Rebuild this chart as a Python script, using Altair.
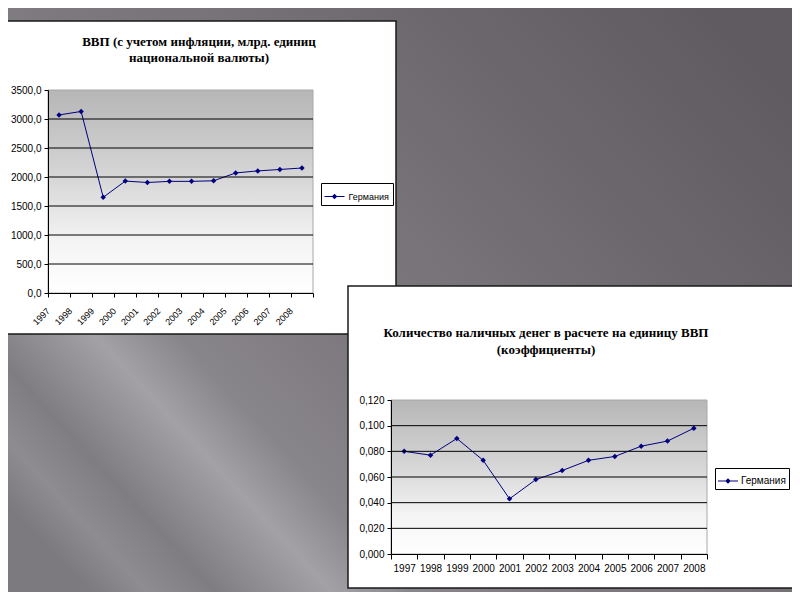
import altair as alt
import pandas as pd

# ---------------- data ----------------
years = ["1997", "1998", "1999", "2000", "2001", "2002",
         "2003", "2004", "2005", "2006", "2007", "2008"]
gdp_values = [3070, 3130, 1650, 1930, 1905, 1925, 1925, 1935, 2070, 2105, 2130, 2155]
cash_values = [0.080, 0.077, 0.090, 0.073, 0.043, 0.058, 0.065, 0.073, 0.076, 0.084, 0.088, 0.098]
series_name = "Германия"
gdp_ticks = [0, 500, 1000, 1500, 2000, 2500, 3000, 3500]
cash_ticks = [0.0, 0.02, 0.04, 0.06, 0.08, 0.10, 0.12]
title1 = "ВВП (с учетом инфляции, млрд. единиц\nнациональной валюты)"
title2 = "Количество наличных денег в расчете на единицу ВВП\n(коэффициенты)"

# ---------------- layout / style ----------------
W, H = 784, 584
NAVY = "#000080"
SANS = "Liberation Sans"
SERIF = "Liberation Serif"
LEG_PATH = "M-1,-0.05L1,-0.05L1,0.05L-1,0.05Z M0,-0.28L0.28,0L0,0.28L-0.28,0Z"

one = pd.DataFrame({"k": [0]})


def deco_rect(x, x2, y, y2, **kw):
    return alt.Chart(one).mark_rect(**kw).encode(
        x=alt.value(x), x2=alt.value(x2), y=alt.value(y), y2=alt.value(y2))


def deco_text(txt, x, y, **kw):
    return alt.Chart(one).mark_text(text=txt, **kw).encode(x=alt.value(x), y=alt.value(y))


slide_bg = deco_rect(0, W, 0, H, fill=alt.LinearGradient(
    gradient="linear", x1=0, y1=0.85, x2=1, y2=0.16,
    stops=[alt.GradientStop(offset=0.0, color="#7c797f"),
           alt.GradientStop(offset=0.05, color="#8e8b91"),
           alt.GradientStop(offset=0.11, color="#7f7c82"),
           alt.GradientStop(offset=0.21, color="#a3a0a6"),
           alt.GradientStop(offset=0.28, color="#88858b"),
           alt.GradientStop(offset=0.42, color="#7d797f"),
           alt.GradientStop(offset=0.55, color="#78747a"),
           alt.GradientStop(offset=0.75, color="#6c686e"),
           alt.GradientStop(offset=1.0, color="#605b61")]))

plot_grad = alt.LinearGradient(
    gradient="linear", x1=0, y1=0, x2=0, y2=1,
    stops=[alt.GradientStop(offset=0.0, color="#b6b6b6"),
           alt.GradientStop(offset=0.45, color="#d8d8d8"),
           alt.GradientStop(offset=0.75, color="#f4f4f4"),
           alt.GradientStop(offset=1.0, color="#ffffff")])


def panel(values, fmt, ticks, plot, xaxis, yaxis_extra, legend_pos, legend_font, legend_pad, legend_off):
    x0, x1, y0, y1 = plot
    df = pd.DataFrame({"year": years, "value": values, "series": series_name})
    grid_df = pd.DataFrame({"value": ticks[1:-1]})
    xscale = alt.Scale(domain=years, range=[x0, x1], paddingInner=0, paddingOuter=0)
    yscale = alt.Scale(domain=[ticks[0], ticks[-1]], range=[y1, y0], nice=False)
    x = alt.X("year:N", scale=xscale, axis=alt.Axis(
        orient="bottom", offset=-(H - y1), title=None, grid=False,
        tickBand="extent", domainColor="black", tickColor="black",
        labelColor="black", labelFont=SANS, labelOverlap=False, zindex=1, **xaxis))
    y = alt.Y("value:Q", scale=yscale, axis=alt.Axis(
        orient="left", offset=-x0, title=None, grid=False,
        domainColor="black", tickColor="black", tickSize=4, labelPadding=3,
        labelColor="black", labelFont=SANS, labelFontSize=10, zindex=1, **yaxis_extra))
    bg = deco_rect(x0, x1, y0, y1, fill=plot_grad, stroke="#a8a8a8", strokeWidth=1)
    grid = alt.Chart(grid_df).mark_rule(color="black", strokeWidth=1).encode(
        y=alt.Y("value:Q", scale=yscale), x=alt.value(x0), x2=alt.value(x1))
    line = alt.Chart(df).mark_line(color=NAVY, strokeWidth=1).encode(x=x, y=y)
    pts = alt.Chart(df).mark_point(shape="diamond", filled=True, size=30, opacity=1).encode(
        x=x, y=y,
        color=alt.Color("series:N", scale=alt.Scale(domain=[series_name], range=[NAVY]),
                        legend=alt.Legend(
                            title=None, orient="none", legendX=legend_pos[0], legendY=legend_pos[1],
                            strokeColor="black", fillColor="white", padding=legend_pad,
                            symbolType=LEG_PATH, symbolSize=400, symbolStrokeWidth=0,
                            symbolOpacity=1, labelFont=SANS, labelFontSize=legend_font,
                            labelColor="black", labelOffset=legend_off, zindex=1)))
    return alt.layer(bg, line, pts, grid)


box1 = deco_rect(-4, 388, 13, 326, fill="white", stroke="#1a1a1a", strokeWidth=1.5)
ttl1 = deco_text(title1, 191, 34, font=SERIF, fontSize=13, fontWeight="bold",
                 align="center", baseline="middle", lineBreak="\n", lineHeight=16, color="black")
panel1 = panel(gdp_values, ".1f", gdp_ticks, (40, 305, 82, 285),
               dict(labelAngle=-45, labelAlign="right", labelBaseline="middle",
                    labelOffset=-11, labelPadding=12, tickSize=4, labelFontSize=9),
               dict(format=".1f", tickCount=7),
               (313, 175), 9, 3.5, 4)

box2 = deco_rect(340, 790, 278, 580, fill="white", stroke="#1a1a1a", strokeWidth=1.5)
ttl2 = deco_text(title2, 538, 325, font=SERIF, fontSize=13, fontWeight="bold",
                 align="center", baseline="middle", lineBreak="\n", lineHeight=17, color="black")
panel2 = panel(cash_values, ".3f", cash_ticks, (383, 699, 392, 546),
               dict(labelAngle=0, tickSize=5, labelPadding=4, labelFontSize=10),
               dict(values=cash_ticks, labelExpr="replace(format(datum.value, '.3f'), '.', ',')"),
               (707, 460), 10, 3, 3)

chart = alt.layer(slide_bg, box1, ttl1, panel1, box2, ttl2, panel2).resolve_scale(
    x="independent", y="independent", color="independent"
).resolve_legend(color="independent").properties(
    width=W, height=H, padding=0, autosize=alt.AutoSizeParams(type="none")
).configure_view(stroke=None)

chart.save("out.html", embed_options={
    "renderer": "svg", "actions": False,
    "formatLocale": {"decimal": ",", "thousands": "\u00a0", "grouping": [3], "currency": ["", ""]}})
